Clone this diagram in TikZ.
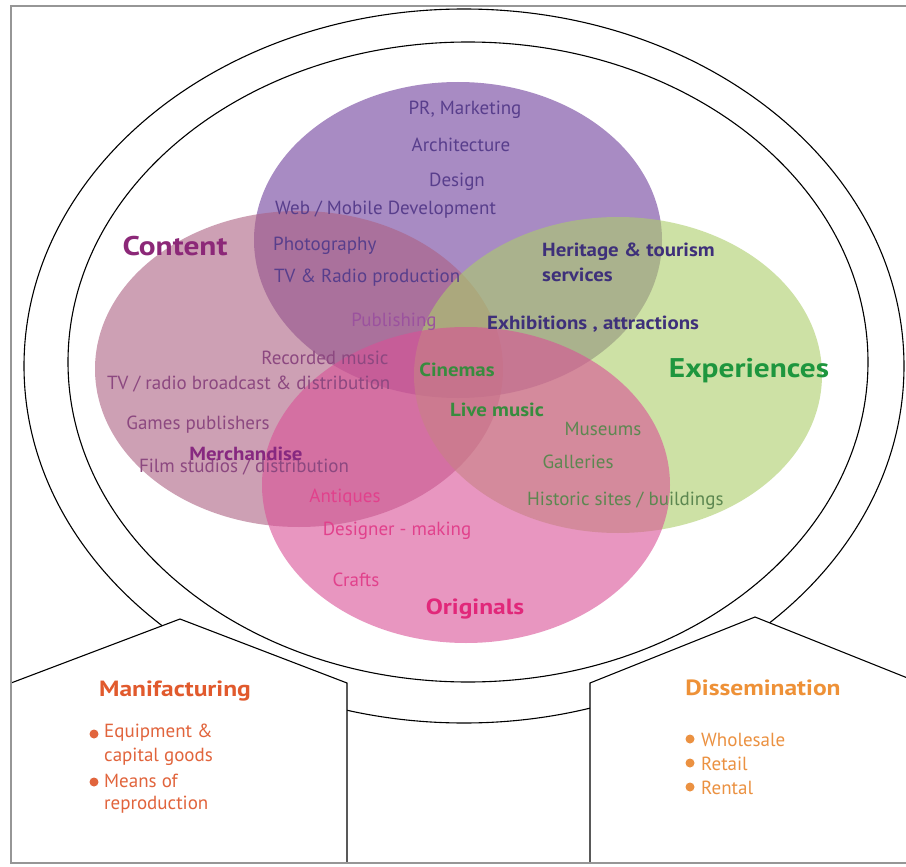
\documentclass[tikz,border=0pt]{standalone}
\usepackage{fontspec}
\setmainfont{PT Sans}
\newfontfamily\wideb[FakeStretch=1.1]{PT Sans}
\newfontfamily\wideh[FakeStretch=1.16]{PT Sans}
\definecolor{vPurple}{RGB}{110,63,155}
\definecolor{vContent}{RGB}{172,97,130}
\definecolor{vGreen}{RGB}{172,205,105}
\definecolor{vPink}{RGB}{217,80,150}
\definecolor{tPurple}{RGB}{88,62,140}
\definecolor{tIndigo}{RGB}{62,48,122}
\definecolor{tContentHead}{RGB}{140,40,120}
\definecolor{tContent}{RGB}{140,72,128}
\definecolor{tPublish}{RGB}{155,82,158}
\definecolor{tMerch}{RGB}{135,40,128}
\definecolor{tGreenBold}{RGB}{55,140,62}
\definecolor{tExper}{RGB}{30,150,62}
\definecolor{tGreen}{RGB}{92,135,80}
\definecolor{tPink}{RGB}{225,65,140}
\definecolor{tOrig}{RGB}{225,40,122}
\definecolor{tManuf}{RGB}{225,90,45}
\definecolor{tManItem}{RGB}{225,100,60}
\definecolor{tDissem}{RGB}{238,145,55}
\definecolor{tDisItem}{RGB}{235,145,65}
\definecolor{frameGray}{RGB}{150,150,150}
\begin{document}
\begin{tikzpicture}[x=1pt,y=-1pt,
  venn/.style={fill opacity=0.6, draw=none},
  ring/.style={draw=black, line width=1.1pt},
  house/.style={draw=black, line width=1.1pt},
  lbl/.style={inner sep=0pt, yshift=-2pt, font=\fontsize{19}{22}\selectfont},
  blbl/.style={inner sep=0pt, yshift=-2pt, font=\fontsize{19}{22}\wideb\bfseries},
  head/.style={inner sep=0pt, yshift=-2pt, font=\fontsize{27}{32}\wideh\bfseries},
  subhead/.style={inner sep=0pt, yshift=-2pt, font=\fontsize{22}{26}\wideh\bfseries},
  item/.style={inner sep=0pt, yshift=-1pt, anchor=west, font=\fontsize{19}{23}\selectfont},
  bullet/.style={circle, inner sep=0pt, minimum size=9pt}
]
\useasboundingbox (0,0) rectangle (906,867);
\fill[white] (0,0) rectangle (906,867);

% rings
\draw[ring] (464,366) ellipse [x radius=440, y radius=357];
\draw[ring] (468,362) ellipse [x radius=400, y radius=320];

% venn ellipses
\fill[venn, vPurple] (458,240) ellipse [x radius=204, y radius=158];
\fill[venn, vContent] (299,369) ellipse [x radius=204, y radius=158];
\fill[venn, vGreen] (618,375) ellipse [x radius=204, y radius=158];
\fill[venn, vPink] (466,485) ellipse [x radius=204, y radius=158];

% houses
\fill[white] (11,683) -- (180,619) -- (347,683) -- (347,863) -- (11,863) -- cycle;
\draw[house] (11,683) -- (180,619) -- (347,683) -- (347,863);
\fill[white] (590,683) -- (755,617) -- (920,683) -- (920,863) -- (590,863) -- cycle;
\draw[house] (590,863) -- (590,683) -- (755,617) -- (920,683);

% frame
\draw[frameGray, line width=2pt] (11,6) rectangle (912,863);

% purple texts
\node[lbl, text=tPurple] (pr) at (465,108) {PR, Marketing};
\node[lbl, text=tPurple] (arch) at (461,143) {Architecture};
\node[lbl, text=tPurple] (design) at (457,180) {Design};
\node[lbl, text=tPurple, anchor=west] (web) at (275,208) {Web / Mobile Development};
\node[lbl, text=tPurple, anchor=west] (photo) at (273,244) {Photography};
\node[lbl, text=tPurple, anchor=west] (tvprod) at (274,276) {TV \& Radio production};

\node[head, text=tContentHead] (content) at (175,244) {Content};
\node[blbl, text=tIndigo, anchor=west] (heritage) at (542,250) {Heritage \& tourism};
\node[blbl, text=tIndigo, anchor=west] (services) at (542,273) {services};
\node[lbl, text=tPublish] (publishing) at (394,320) {Publishing};
\node[blbl, text=tIndigo, anchor=west] (exhib) at (487,322) {Exhibitions , attractions};

% content texts
\node[lbl, text=tContent] (recorded) at (325,356) {Recorded music};
\node[lbl, text=tContent, anchor=west] (tvbroad) at (107,382) {TV / radio broadcast \& distribution};
\node[lbl, text=tContent] (games) at (198,423) {Games publishers};
\node[lbl, text=tContent] (film) at (244,465) {Film studios / distribution};
\node[blbl, text=tMerch] (merch) at (246,452) {Merchandise};

% green texts
\node[blbl, text=tGreenBold] (cinemas) at (457,368) {Cinemas};
\node[head, text=tExper] (exper) at (749,369) {Experiences};
\node[blbl, text=tGreenBold] (live) at (497,408) {Live music};
\node[lbl, text=tGreen] (museums) at (603,427) {Museums};
\node[lbl, text=tGreen] (galleries) at (578,460) {Galleries};
\node[lbl, text=tGreen, anchor=west] (historic) at (527,499) {Historic sites / buildings};

% pink texts
\node[lbl, text=tPink] (antiques) at (345,496) {Antiques};
\node[lbl, text=tPink] (designer) at (397,529) {Designer - making};
\node[lbl, text=tPink] (crafts) at (356,578) {Crafts};
\node[subhead, text=tOrig] (orig) at (475,607) {Originals};

% manufacturing
\node[subhead, text=tManuf] (manuf) at (175,689) {Manifacturing};
\node[bullet, fill=tManItem] (b1) at (94,734) {};
\node[item, text=tManItem] (m1) at (104,732) {Equipment \&};
\node[item, text=tManItem] (m2) at (104,756) {capital goods};
\node[bullet, fill=tManItem] (b2) at (94,782) {};
\node[item, text=tManItem] (m3) at (104,780) {Means of};
\node[item, text=tManItem] (m4) at (104,804) {reproduction};

% dissemination
\node[subhead, text=tDissem] (dissem) at (763,686) {Dissemination};
\node[bullet, fill=tDisItem] (b3) at (690,739) {};
\node[item, text=tDisItem] (d1) at (701,739) {Wholesale};
\node[bullet, fill=tDisItem] (b4) at (690,763) {};
\node[item, text=tDisItem] (d2) at (701,763) {Retail};
\node[bullet, fill=tDisItem] (b5) at (690,787) {};
\node[item, text=tDisItem] (d3) at (701,787) {Rental};
\end{tikzpicture}
\end{document}
